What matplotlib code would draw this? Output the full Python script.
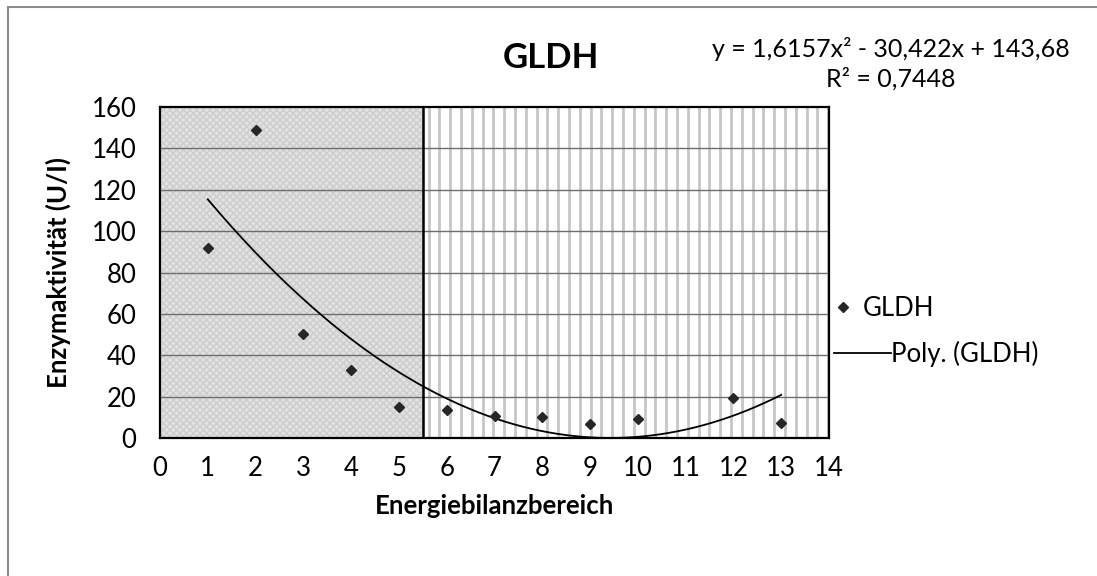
import numpy as np
import matplotlib
matplotlib.use("Agg")
import matplotlib.pyplot as plt
from matplotlib.lines import Line2D

# DATA ##########################################

bereich = [1, 2, 3, 4, 5, 6, 7, 8, 9, 10, 12, 13]
gldh = [92, 149, 50.3, 33, 15, 13.5, 10.5, 10.2, 7, 9.2, 19.2, 7.2]

x_ticks = list(range(0, 15))
y_ticks = [0, 20, 40, 60, 80, 100, 120, 140, 160]
grenze = 5.5  # split between the two shaded ranges

equation_text = "y = 1,6157x² - 30,422x + 143,68\nR² = 0,7448"

# SETUP #########################################

plt.rcParams.update({
    "font.family": ["Lato", "DejaVu Sans"],
    "font.size": 18.5,
})

fig = plt.figure(figsize=(10.97, 5.76), dpi=100)
ax = fig.add_axes([0.1459, 0.2396, 0.6098, 0.5746])

ax.set_xlim(0, 14)
ax.set_ylim(0, 160)

# background areas
ax.axvspan(0, grenze, facecolor="#e2e2e2", edgecolor="#cdcdcd",
           hatch="xxxxx", linewidth=0, zorder=0)
stripes = np.arange(grenze + 0.12, 14, 0.226)
ax.vlines(stripes, 0, 160, colors="#c6c6c6", linewidth=2.0, zorder=0.5)
ax.axvline(grenze, color="black", linewidth=1.8, zorder=2)

# gridlines
for yv in y_ticks[1:-1]:
    ax.axhline(yv, color="#6e6e6e", linewidth=1.0, zorder=1)

# scatter
pts, = ax.plot(bereich, gldh, linestyle="none", marker="D", markersize=5.5,
               color="#262626", label="GLDH", zorder=4)

# polynomial trendline
coef = np.polyfit(bereich, gldh, 2)
xs = np.linspace(min(bereich), max(bereich), 200)
trend, = ax.plot(xs, np.polyval(coef, xs), color="black", linewidth=1.3,
                 label="Poly. (GLDH)", zorder=3)

# TICKS AND LABELS ##############################

ax.set_xticks(x_ticks)
ax.set_yticks(y_ticks)
ax.tick_params(axis="x", length=0, pad=13)
ax.tick_params(axis="y", length=0, pad=17)
for s in ax.spines.values():
    s.set_linewidth(1.6)
    s.set_color("black")
    s.set_zorder(5)

ax.set_xlabel("Energiebilanzbereich", fontweight="bold", labelpad=9)
ax.set_ylabel("Enzymaktivität (U/I)", fontweight="bold", labelpad=15)

fig.text(0.502, 0.90, "GLDH", ha="center", va="center",
         fontsize=25, fontweight="bold")
fig.text(0.812, 0.889, equation_text, ha="center", va="center",
         fontsize=18, multialignment="center", linespacing=1.35)

# LEGEND ########################################

# two entries with different handle lengths, like the Excel legend
leg1 = ax.legend(handles=[pts], loc="center left", bbox_to_anchor=(1.0, 0.39),
                 frameon=False, handlelength=0.7, handletextpad=0.4,
                 borderaxespad=0.0, borderpad=0.2)
ax.add_artist(leg1)
ax.legend(handles=[trend], loc="center left", bbox_to_anchor=(1.0, 0.254),
          frameon=False, handlelength=2.2, handletextpad=0.0,
          borderaxespad=0.0, borderpad=0.2)

# outer border (top and left only)
fig.add_artist(Line2D([0.0073, 1.0], [0.988, 0.988], color="#8c8c8c",
                      linewidth=1.5, transform=fig.transFigure))
fig.add_artist(Line2D([0.0073, 0.0073], [0.0, 0.988], color="#8c8c8c",
                      linewidth=1.5, transform=fig.transFigure))

# EXPORT ########################################

fig.savefig("out.png", dpi=100)
